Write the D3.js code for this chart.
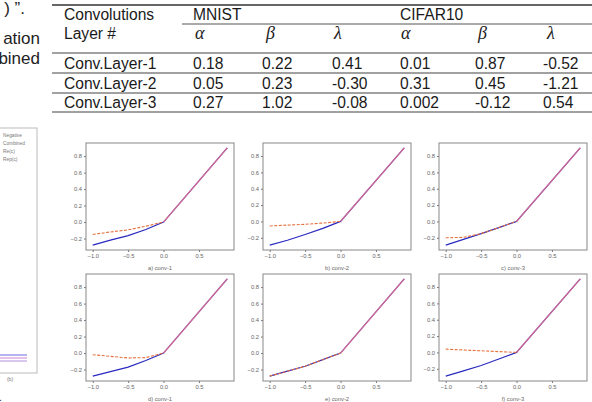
<!DOCTYPE html>
<html>
<head>
<meta charset="utf-8">
<script src="https://cdn.jsdelivr.net/npm/d3@7"></script>
<style>
  body { margin: 0; background: #fff; }
  svg { display: block; }
</style>
</head>
<body>
<div id="viz"></div>
<script>
// ---- table data ----
var layers = ["Conv.Layer-1", "Conv.Layer-2", "Conv.Layer-3"];
var mnistAlpha = ["0.18", "0.05", "0.27"];
var mnistBeta = ["0.22", "0.23", "1.02"];
var mnistLambda = ["0.41", "-0.30", "-0.08"];
var cifarAlpha = ["0.01", "0.31", "0.002"];
var cifarBeta = ["0.87", "0.45", "-0.12"];
var cifarLambda = ["-0.52", "-1.21", "0.54"];
var greek = ["\u03b1", "\u03b2", "\u03bb", "\u03b1", "\u03b2", "\u03bb"];

// ---- plot data ----
var captions = ["a) conv-1", "b) conv-2", "c) conv-3", "d) conv-1", "e) conv-2", "f) conv-3"];
var xs = [-1.0, -0.75, -0.5, -0.25, 0.0, 0.9];
var solidVals = [
  [-0.28, -0.22, -0.165, -0.09, 0, 0.9],
  [-0.29, -0.23, -0.16, -0.085, 0, 0.9],
  [-0.29, -0.22, -0.15, -0.075, 0, 0.9],
  [-0.28, -0.225, -0.17, -0.09, 0, 0.9],
  [-0.28, -0.22, -0.16, -0.08, 0, 0.9],
  [-0.29, -0.225, -0.16, -0.08, 0, 0.9]
];
var dashedVals = [
  [-0.15, -0.12, -0.095, -0.05, 0, 0.9],
  [-0.055, -0.045, -0.035, -0.02, 0, 0.9],
  [-0.2, -0.195, -0.15, -0.075, 0, 0.9],
  [-0.02, -0.04, -0.06, -0.055, 0, 0.9],
  [-0.28, -0.22, -0.16, -0.08, 0, 0.9],
  [0.04, 0.03, 0.02, 0.01, 0, 0.9]
];
var xTicks = [-1.0, -0.5, 0.0, 0.5];
var yTicks = [-0.2, 0.0, 0.2, 0.4, 0.6, 0.8];
var legendLabels = ["Negative", "Combined", "Re(c)", "Rep(c)"];

var W = 592, H = 402;
var svg = d3.select("#viz").append("svg").attr("width", W).attr("height", H);

var sans = "'Liberation Sans', Arial, sans-serif";

// ---- cut-off text on the left ----
var leftText = [[") \u201d.", 14], ["ation", 44], ["bined", 64]];
svg.selectAll("text.frag").data(leftText).enter().append("text")
  .attr("class", "frag")
  .attr("x", function(d, i) { return i == 0 ? 25 : 40; })
  .attr("y", function(d) { return d[1]; })
  .attr("text-anchor", "end")
  .style("font-family", sans).style("font-size", "17px").style("fill", "#222")
  .text(function(d) { return d[0]; });

// ---- table ----
var tbl = svg.append("g");
var colX = [64, 193, 262, 332, 400, 475, 543];
var greekX = [195, 266, 334, 401, 478, 547];
var rowY = [69, 89, 108];
var ruleY = [53, 73, 93, 112];

tbl.append("line").attr("x1", 52).attr("x2", W).attr("y1", 5).attr("y2", 5)
  .style("stroke", "#333").style("stroke-width", 1.5);
tbl.append("line").attr("x1", 182).attr("x2", W).attr("y1", 24).attr("y2", 24)
  .style("stroke", "#555").style("stroke-width", 1);
tbl.selectAll("line.rule").data(ruleY).enter().append("line")
  .attr("class", "rule")
  .attr("x1", 52).attr("x2", W)
  .attr("y1", function(d) { return d; }).attr("y2", function(d) { return d; })
  .style("stroke", "#444").style("stroke-width", 1.1);

function tText(x, y, s) {
  return tbl.append("text").attr("x", x).attr("y", y)
    .style("font-family", sans).style("font-size", "15.6px").style("fill", "#1a1a1a")
    .text(s);
}
tText(64, 20, "Convolutions");
tText(64, 39, "Layer #");
tText(193, 20, "MNIST");
tText(400, 20, "CIFAR10");

tbl.selectAll("text.greek").data(greek).enter().append("text")
  .attr("class", "greek")
  .attr("x", function(d, i) { return greekX[i]; })
  .attr("y", 39)
  .style("font-family", "'Liberation Serif', 'Times New Roman', serif")
  .style("font-style", "italic").style("font-size", "18px").style("fill", "#222")
  .text(function(d) { return d; });

var columns = [layers, mnistAlpha, mnistBeta, mnistLambda, cifarAlpha, cifarBeta, cifarLambda];
columns.forEach(function(col, c) {
  col.forEach(function(v, r) { tText(colX[c], rowY[r], v); });
});

// ---- left legend fragment ----
var lg = svg.append("g");
lg.append("rect").attr("x", -5).attr("y", 128).attr("width", 42).attr("height", 245)
  .style("fill", "none").style("stroke", "#bbb").style("stroke-width", 1);
lg.selectAll("text").data(legendLabels).enter().append("text")
  .attr("x", 3).attr("y", function(d, i) { return 137 + i * 8; })
  .style("font-family", sans).style("font-size", "4.8px").style("fill", "#777")
  .text(function(d) { return d; });
var legendColors = ["#6a6ae0", "#d080d0", "#b090e0"];
lg.selectAll("line").data(legendColors).enter().append("line")
  .attr("x1", 0).attr("x2", 27)
  .attr("y1", function(d, i) { return 355 + i * 3; })
  .attr("y2", function(d, i) { return 355 + i * 3; })
  .style("stroke", function(d) { return d; }).style("stroke-width", 1);
svg.append("text").attr("x", 10).attr("y", 381).attr("text-anchor", "middle")
  .style("font-family", sans).style("font-size", "5px").style("fill", "#777").text("(b)");
svg.append("text").attr("x", -1).attr("y", 401)
  .style("font-family", sans).style("font-size", "10px").style("fill", "#222").text(".");

// ---- small multiples ----
var colLeft = [86, 263, 439], pw = 148;
var rowTop = [143, 274], ph = 107;

captions.forEach(function(cap, k) {
  var left = colLeft[k % 3], top = rowTop[Math.floor(k / 3)];
  var g = svg.append("g").attr("transform", "translate(" + left + "," + top + ")");

  var allY = solidVals[k].concat(dashedVals[k]);
  var ymin = d3.min(allY), ymax = d3.max(allY);
  var xmin = d3.min(xs), xmax = d3.max(xs);
  var mx = (xmax - xmin) * 0.05, my = (ymax - ymin) * 0.05;
  var x = d3.scaleLinear().domain([xmin - mx, xmax + mx]).range([0, pw]);
  var y = d3.scaleLinear().domain([ymin - my, ymax + my]).range([ph, 0]);

  var fmt = function(v) { return d3.format(".1f")(v).replace("-", "\u2212"); };

  var xa = g.append("g").attr("transform", "translate(0," + ph + ")")
    .call(d3.axisBottom(x).tickValues(xTicks).tickSize(2).tickPadding(2).tickFormat(fmt));
  var ya = g.append("g")
    .call(d3.axisLeft(y).tickValues(yTicks).tickSize(2).tickPadding(2).tickFormat(fmt));
  [xa, ya].forEach(function(a) {
    a.select(".domain").remove();
    a.selectAll("line").style("stroke", "#777");
    a.selectAll("text").style("font-family", sans).style("font-size", "5.8px").style("fill", "#666");
  });

  var line = d3.line().x(function(d) { return x(d[0]); }).y(function(d) { return y(d[1]); });
  var solid = xs.map(function(v, i) { return [v, solidVals[k][i]]; });
  var dashed = xs.map(function(v, i) { return [v, dashedVals[k][i]]; });
  var neg = dashed.filter(function(d) { return d[0] <= 0; });
  var pos = solid.filter(function(d) { return d[0] >= 0; });

  g.append("path").datum(solid).attr("d", line)
    .style("fill", "none").style("stroke", "#2a2ac0").style("stroke-width", 1.2);
  g.append("path").datum(pos).attr("d", line)
    .style("fill", "none").style("stroke", "#f07088").style("stroke-width", 1.3).style("opacity", 0.85);
  g.append("path").datum(neg).attr("d", line)
    .style("fill", "none").style("stroke", "#e8703a").style("stroke-width", 1.1)
    .style("stroke-dasharray", "3,1.5");

  g.append("rect").attr("width", pw).attr("height", ph)
    .style("fill", "none").style("stroke", "#888").style("stroke-width", 1);

  g.append("text").attr("x", pw / 2).attr("y", ph + 20).attr("text-anchor", "middle")
    .style("font-family", sans).style("font-size", "5.8px").style("fill", "#666")
    .text(cap);
});
</script>
</body>
</html>
